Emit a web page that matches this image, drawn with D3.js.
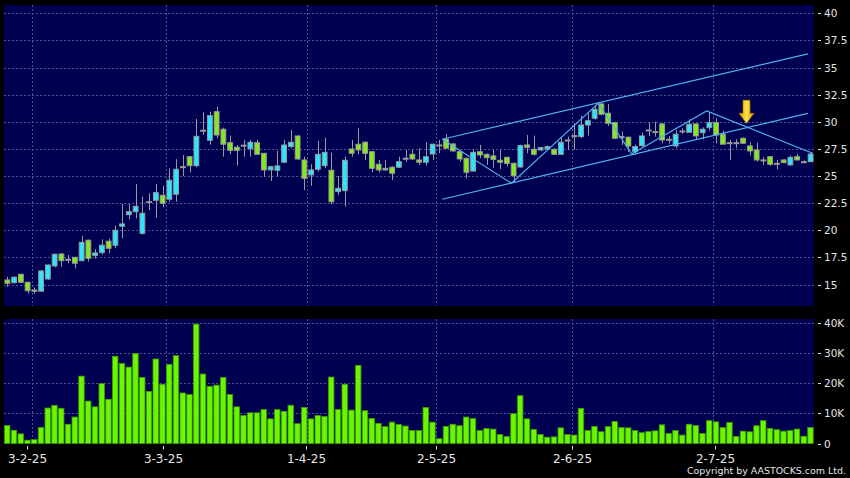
<!DOCTYPE html>
<html><head><meta charset="utf-8">
<script src="https://cdn.jsdelivr.net/npm/d3@7"></script>
<style>html,body{margin:0;padding:0;background:#000;} svg{display:block;}</style>
</head><body>
<svg id="chart" width="850" height="478"></svg>
<script>
// ---- data (daily candles, 120 sessions) ----
const opens = [15.43,15.18,15.95,15.22,14.5,14.4,15.52,16.72,17.82,17.34,
 17.52,17.21,19.09,17.7,17.95,19.0,18.63,20.38,21.45,21.72,
 19.73,22.65,22.77,23.23,22.87,23.33,25.87,26.79,25.96,29.23,
 28.3,30.94,29.32,28.08,27.66,27.85,27.53,28.08,27.1,25.57,
 25.54,26.28,27.72,28.7,26.49,25.11,25.63,25.96,25.54,23.57,
 23.66,27.5,27.94,28.12,27.25,26.09,25.57,25.82,25.82,26.65,
 27.01,26.49,26.28,27.04,27.87,28.4,27.96,27.25,26.64,25.47,
 27.25,27.01,26.86,26.46,26.73,26.18,25.84,27.87,27.47,27.41,
 27.5,27.47,27.01,28.33,28.73,28.64,29.71,30.33,31.65,30.79,
 29.93,28.64,28.58,27.25,27.81,29.25,29.1,29.81,28.4,27.78,
 29.16,29.04,29.81,29.0,29.47,29.93,28.86,28.08,28.08,28.49,
 27.78,27.41,26.49,26.79,26.18,26.49,26.03,26.79,26.33,26.33];
const closes = [15.12,15.68,15.22,14.44,14.38,16.26,16.81,17.8,17.21,17.34,
 16.97,18.9,17.43,17.92,18.63,18.35,20.01,20.59,21.72,22.22,
 21.58,22.65,23.48,22.5,24.62,25.63,25.87,25.96,28.67,29.23,
 30.57,28.79,27.94,27.38,27.38,27.85,28.12,27.01,25.57,25.87,
 25.94,27.87,28.12,26.58,24.8,25.57,27.01,27.19,22.64,23.88,
 26.46,27.1,27.41,27.1,25.72,25.57,25.72,25.26,26.33,26.65,
 26.58,26.28,26.79,27.94,27.87,27.57,27.32,26.58,25.35,27.19,
 26.95,26.7,26.55,26.28,26.18,25.04,27.81,27.66,27.01,27.63,
 27.72,27.01,28.12,28.33,28.73,29.71,30.11,31.16,30.7,29.87,
 28.49,28.64,27.78,27.72,28.7,29.25,29.1,28.33,28.4,28.86,
 29.16,29.78,28.7,29.32,29.93,28.79,27.94,28.08,28.08,28.03,
 27.32,26.49,26.49,26.09,26.18,26.24,26.73,26.49,26.33,27.04];
const highs = [15.73,15.75,16.0,15.25,14.75,16.3,16.85,17.85,17.9,17.73,
 17.55,19.49,19.15,18.26,19.18,19.24,20.43,22.43,22.43,24.28,
 23.11,23.42,24.28,24.12,25.72,26.55,26.95,26.85,30.27,30.88,
 30.94,31.4,29.47,28.73,27.87,28.33,28.33,28.33,27.15,25.95,
 27.32,28.33,29.25,28.75,26.79,26.09,28.24,28.54,27.16,25.01,
 26.79,28.33,29.41,28.2,27.3,26.49,26.49,25.9,26.79,27.41,
 27.41,27.57,28.12,28.0,28.33,28.86,28.05,27.3,26.7,27.41,
 27.87,27.1,27.41,27.41,26.8,26.25,27.9,28.79,28.73,27.7,
 27.8,27.55,28.5,28.64,29.87,30.57,30.79,31.56,31.77,31.65,
 30.0,29.1,28.65,27.9,29.0,29.93,30.02,29.85,28.7,29.25,
 29.4,30.24,29.85,29.5,30.94,30.33,29.2,28.33,28.4,28.55,
 28.1,28.08,26.75,26.85,26.49,26.55,26.9,27.05,26.45,27.2];
const lows = [14.81,15.1,15.15,14.2,14.14,14.35,15.43,16.6,16.65,16.97,
 16.5,17.15,17.12,17.4,17.76,17.89,18.35,19.27,21.02,21.11,
 19.6,21.88,21.17,22.13,22.64,22.64,24.99,25.35,25.82,28.79,
 27.9,28.49,26.79,27.01,25.96,26.79,26.79,27.0,24.95,24.55,
 24.95,26.2,27.57,26.49,23.72,24.12,25.41,25.72,22.4,23.26,
 22.18,26.79,27.01,26.49,25.35,25.35,25.5,24.65,25.75,26.33,
 26.5,26.03,25.96,26.49,27.1,27.5,27.25,26.33,24.8,25.4,
 26.64,26.03,25.78,25.66,25.9,24.43,25.8,27.1,26.9,27.3,
 27.4,26.95,26.95,27.41,27.41,28.5,28.73,30.2,30.6,29.62,
 28.4,27.87,27.25,26.95,27.7,28.7,28.64,28.03,28.0,27.6,
 28.9,29.0,28.33,28.4,29.2,28.03,27.94,26.49,27.6,28.0,
 26.9,26.33,26.03,25.95,25.63,26.2,25.95,26.45,26.2,26.3];
const volumesK = [6.0,4.4,3.2,1.1,1.3,5.3,11.8,12.7,11.7,6.4,
 8.8,22.4,14.1,12.2,19.9,14.7,29.0,26.6,25.4,29.9,
 22.0,17.3,28.1,19.7,26.3,29.2,16.8,16.3,39.7,23.1,
 19.0,19.4,22.0,16.3,12.2,9.3,10.2,10.2,11.3,8.2,
 11.3,10.7,12.7,6.6,12.0,8.2,9.3,9.0,22.1,11.3,
 19.7,11.1,26.0,10.9,8.3,6.7,5.6,7.1,6.3,5.8,
 4.3,4.3,12.0,7.1,1.6,5.7,6.4,5.9,8.8,8.3,
 4.3,5.0,4.8,3.0,2.3,9.9,15.9,8.2,4.7,3.0,
 2.1,2.2,5.2,3.0,2.8,11.7,4.3,5.7,3.9,5.6,
 7.3,5.3,5.2,4.3,3.6,4.0,4.2,6.2,3.3,4.3,
 2.8,6.4,6.0,3.3,7.6,7.2,5.3,7.0,2.3,4.1,
 3.9,5.9,7.6,5.0,4.6,4.1,4.3,4.8,2.4,5.3];

const priceTicks = [15,17.5,20,22.5,25,27.5,30,32.5,35,37.5,40];
const volumeTicks = [0,10,20,30,40];           // thousands
const volumeTickLabels = ["0","10K","20K","30K","40K"];
const dateLabels = ["3-2-25","3-3-25","1-4-25","2-5-25","2-6-25","2-7-25"];
const dateLabelPos = [2.95,23.1,44.24,63.54,83.64,104.83];   // session index
const dateGridPos  = [3.6,23.54,44.43,63.54,83.6,104.49];

// drawing overlays: [session index, price]
const channelUpper = [[64.43,28.40],[118.6,36.26]];
const channelLower = [[64.43,22.87],[118.6,30.79]];
const zigzag = [[64.43,28.40],[74.68,24.34],[87.54,31.71],[92.49,27.04],[103.6,31.0],[119.3,27.11]];
const arrowAt = [109.5,29.87];

// ---- layout ----
const L = 4, R = 814;
const pTop = 5, pBot = 306, vTop = 319, vBot = 443.5;
const n = opens.length;

const svg = d3.select("#chart");
svg.append("rect").attr("width",850).attr("height",478).attr("fill","#000");

const x = d3.scaleLinear().domain([-0.5, n-0.5]).range([L, R]);
const step = x(1)-x(0);
const y = d3.scaleLinear().domain([13.03, 40.77]).range([pBot, pTop]);
const yv = d3.scaleLinear().domain([0, 41.4]).range([vBot, vTop]);

const bg = "#000050", gridC = "#52528f", txtC = "#e4e4e4";
const cyan = "#2ae6ff", green = "#84ea1c", wickC = "#9a9a9a";

// panels
svg.append("rect").attr("x",L).attr("y",pTop).attr("width",R-L).attr("height",pBot-pTop).attr("fill",bg);
svg.append("rect").attr("x",L).attr("y",vTop).attr("width",R-L).attr("height",vBot-vTop).attr("fill",bg);

// grids
const g = svg.append("g").attr("stroke",gridC).attr("stroke-width",1).attr("stroke-dasharray","2,2").attr("fill","none");
priceTicks.forEach(t => {
  const yy = Math.round(y(t))+0.5;
  g.append("line").attr("x1",L).attr("x2",R).attr("y1",yy).attr("y2",yy);
});
volumeTicks.filter(t=>t>0).forEach(t => {
  const yy = Math.round(yv(t))+0.5;
  g.append("line").attr("x1",L).attr("x2",R).attr("y1",yy).attr("y2",yy);
});
dateGridPos.forEach(p => {
  const xx = Math.round(x(p))+0.5;
  g.append("line").attr("x1",xx).attr("x2",xx).attr("y1",pTop).attr("y2",pBot);
  g.append("line").attr("x1",xx).attr("x2",xx).attr("y1",vTop).attr("y2",vBot);
});

// candles
const data = d3.range(n).map(i => ({i, o:opens[i], h:highs[i], l:lows[i], c:closes[i], v:volumesK[i]}));
const bw = 4.8;
const cg = svg.append("g");
cg.selectAll("line.wick").data(data).join("line")
  .attr("x1",d=>Math.round(x(d.i))+0.5).attr("x2",d=>Math.round(x(d.i))+0.5)
  .attr("y1",d=>y(d.h)).attr("y2",d=>y(d.l))
  .attr("stroke",wickC).attr("stroke-width",1);
cg.selectAll("rect.body").data(data).join("rect")
  .attr("x",d=>x(d.i)-bw/2).attr("width",bw)
  .attr("y",d=>y(Math.max(d.o,d.c)))
  .attr("height",d=>Math.max(1, Math.abs(y(d.o)-y(d.c))))
  .attr("fill",d=>d.c>d.o?cyan:(d.c<d.o?green:wickC))
  .attr("stroke",wickC).attr("stroke-width",1);

// volume bars
svg.append("g").selectAll("rect").data(data).join("rect")
  .attr("x",d=>x(d.i)-step/2+0.5).attr("width",step-1.3)
  .attr("y",d=>yv(d.v)).attr("height",d=>vBot-yv(d.v))
  .attr("fill","#6af500").attr("stroke","#3f9c00").attr("stroke-width",0.8);

// trend lines
const line = d3.line().x(d=>x(d[0])).y(d=>y(d[1]));
const tl = svg.append("g").attr("fill","none").attr("stroke","#4fb0f0").attr("stroke-width",1.2);
[channelUpper, channelLower, zigzag].forEach(pts => tl.append("path").attr("d", line(pts)));

// arrow marker
const defs = svg.append("defs");
const grad = defs.append("linearGradient").attr("id","ag").attr("x1","0").attr("x2","1").attr("y1","0").attr("y2","0");
grad.append("stop").attr("offset","0").attr("stop-color","#d98c00");
grad.append("stop").attr("offset","0.5").attr("stop-color","#ffe640");
grad.append("stop").attr("offset","1").attr("stop-color","#d98c00");
const ax = x(arrowAt[0]), ay = y(arrowAt[1]);
svg.append("path")
  .attr("d",`M${ax},${ay} L${ax-7.5},${ay-10} L${ax-3.5},${ay-10} L${ax-3.5},${ay-23} L${ax+3.5},${ay-23} L${ax+3.5},${ay-10} L${ax+7.5},${ay-10} Z`)
  .attr("fill","url(#ag)").attr("stroke","#c07a00").attr("stroke-width",0.6);

// right axes
const ax1 = svg.append("g").attr("font-family","DejaVu Sans, sans-serif").attr("font-size","10.5px").attr("fill",txtC);
priceTicks.forEach(t => {
  const yy = Math.round(y(t))+0.5;
  ax1.append("line").attr("x1",818).attr("x2",821).attr("y1",yy).attr("y2",yy).attr("stroke",txtC);
  ax1.append("text").attr("x",824).attr("y",yy).attr("dy","0.36em").text(String(t));
});
volumeTicks.forEach((t,k) => {
  const yy = Math.round(yv(t))+0.5;
  ax1.append("line").attr("x1",818).attr("x2",821).attr("y1",yy).attr("y2",yy).attr("stroke",txtC);
  ax1.append("text").attr("x",824).attr("y",yy).attr("dy","0.36em").text(volumeTickLabels[k]);
});

// date axis
const ax2 = svg.append("g").attr("font-family","DejaVu Sans, sans-serif").attr("font-size","12px").attr("fill",txtC);
dateLabelPos.forEach((p,k) => {
  const xx = Math.round(x(p))+0.5;
  ax2.append("line").attr("x1",xx).attr("x2",xx).attr("y1",446).attr("y2",449.5).attr("stroke",txtC);
  ax2.append("text").attr("x",xx).attr("y",462.5).attr("text-anchor","middle").text(dateLabels[k]);
});

svg.append("text").attr("x",846).attr("y",473.5).attr("text-anchor","end")
  .attr("font-family","DejaVu Sans, sans-serif").attr("font-size","9.5px").attr("fill",txtC)
  .attr("textLength",159).attr("lengthAdjust","spacingAndGlyphs")
  .text("Copyright by AASTOCKS.com Ltd.");
</script>
</body></html>
